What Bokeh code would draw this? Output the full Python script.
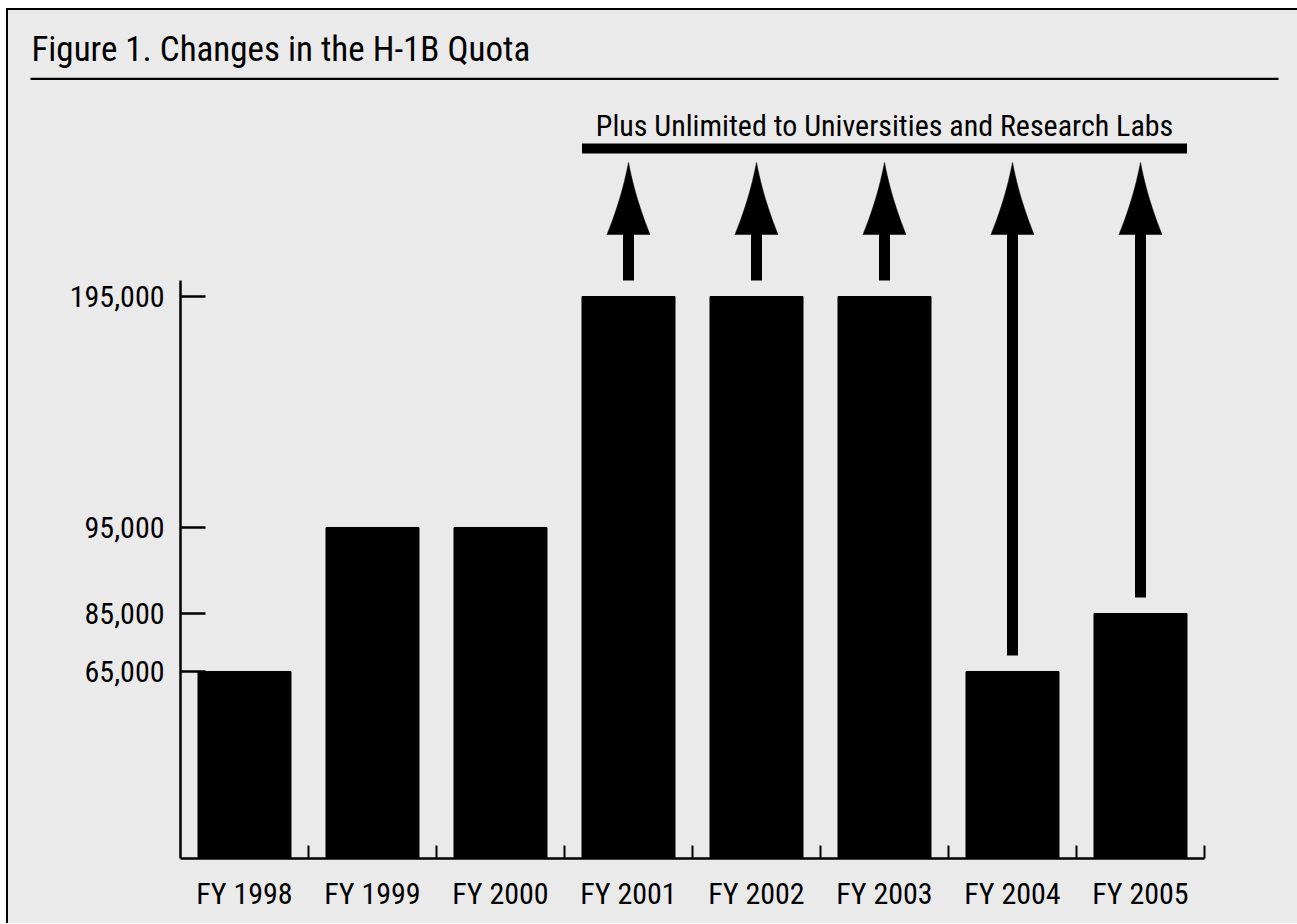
import numpy as np
from bokeh.plotting import figure
from bokeh.models import Range1d, FixedTicker
from bokeh.layouts import column
from bokeh.core.properties import value
from bokeh.embed import file_html
from bokeh.resources import INLINE

# ---------------- data ----------------
categories = ["FY 1998", "FY 1999", "FY 2000", "FY 2001",
              "FY 2002", "FY 2003", "FY 2004", "FY 2005"]
quota = [65000, 95000, 95000, 195000, 195000, 195000, 65000, 85000]
unlimited = [False, False, False, True, True, True, True, True]
y_tick_values = [65000, 85000, 95000, 195000]
y_tick_labels = ["65,000", "85,000", "95,000", "195,000"]
title_text = "Figure 1. Changes in the H-1B Quota"
note_text = "Plus Unlimited to Universities and Research Labs"

# hand-drawn (non-linear) value axis of the original: value anchors -> display units
scale_values = [0, 65000, 85000, 95000, 195000]
scale_display = [0, 187, 245, 331, 562]


def ymap(v):
    return np.interp(np.asarray(v, dtype=float), scale_values, scale_display)


FONT = "Roboto Condensed"
BG = "#EAEAEA"
W = 1289

# ---------------- header (title + rule) ----------------
ph = figure(width=W, height=70, x_range=Range1d(0, W), y_range=Range1d(0, 70),
            min_border=0, toolbar_location=None, output_backend="svg",
            x_axis_type=None, y_axis_type=None)
ph.frame_align = False
ph.background_fill_color = BG
ph.border_fill_color = BG
ph.outline_line_color = None
ph.text(x=[23], y=[31.5], text=[title_text], text_font=value(FONT),
        text_font_size="35px", text_color="black",
        text_align="left", text_baseline="middle")
ph.segment(x0=[22], y0=[1.5], x1=[1270], y1=[1.5], line_width=2.5, line_color="black")

# ---------------- chart ----------------
p = figure(width=W, height=843, x_range=Range1d(0, len(categories)),
           y_range=Range1d(0, 778), toolbar_location=None, output_backend="svg",
           min_border_left=172, min_border_right=W - 1196, min_border_top=0,
           min_border_bottom=65)
p.frame_align = False
p.background_fill_color = BG
p.border_fill_color = BG
p.outline_line_color = None
p.xgrid.visible = False
p.ygrid.visible = False

xc = np.arange(len(categories)) + 0.5
tops = ymap(quota)
bar_w = 93 / 128

p.vbar(x=xc, top=tops, bottom=0, width=bar_w, fill_color="black", line_color="black")

# arrows for "unlimited"
idx = [i for i, u in enumerate(unlimited) if u]
tip_y = 696
head_base = 624
gap = 16
shaft_w = 11 / 128
head_hw = 21.5 / 128
ux = xc[idx]
p.quad(left=ux - shaft_w / 2, right=ux + shaft_w / 2,
       bottom=tops[idx] + gap, top=np.full(len(idx), head_base + 2),
       fill_color="black", line_color=None)

t = np.linspace(0, 1, 12)
xs, ys = [], []
for cx in ux:
    ctrl_x, ctrl_y = 0.32 * head_hw, head_base + 0.5 * (tip_y - head_base)
    rx = 2 * (1 - t) * t * ctrl_x + t ** 2 * head_hw
    ry = (1 - t) ** 2 * tip_y + 2 * (1 - t) * t * ctrl_y + t ** 2 * head_base
    px = np.concatenate([cx + rx, (cx - rx)[::-1]])
    py = np.concatenate([ry, ry[::-1]])
    xs.append(list(px))
    ys.append(list(py))
p.patches(xs, ys, fill_color="black", line_color="black", line_width=0.5)

# bracket bar and note
x_left = xc[idx[0]] - bar_w / 2
x_right = xc[idx[-1]] + bar_w / 2
p.quad(left=[x_left], right=[x_right], bottom=[705], top=[715],
       fill_color="black", line_color=None)
p.text(x=[(x_left + x_right) / 2], y=[733], text=[note_text], text_font=value(FONT),
       text_font_size="30px", text_color="black",
       text_align="center", text_baseline="middle")

# y axis
ytick_pos = [int(round(v)) for v in ymap(y_tick_values)]
p.yaxis.ticker = FixedTicker(ticks=ytick_pos)
p.yaxis.major_label_overrides = {k: lab for k, lab in zip(ytick_pos, y_tick_labels)}
p.yaxis.bounds = (0, 578)
p.yaxis.axis_line_width = 2.5
p.yaxis.major_tick_in = 25
p.yaxis.major_tick_out = 0
p.yaxis.major_tick_line_width = 2.5
p.yaxis.minor_tick_line_color = None
p.yaxis.major_label_standoff = 16
p.yaxis.major_label_text_font = FONT
p.yaxis.major_label_text_font_size = "30px"
p.yaxis.major_label_text_color = "black"

# x axis: labels at category centres, small ticks at category boundaries
p.xaxis.ticker = FixedTicker(ticks=list(xc), minor_ticks=list(range(1, len(categories) + 1)))
p.xaxis.major_label_overrides = {float(k): lab for k, lab in zip(xc, categories)}
p.xaxis.axis_line_width = 2.5
p.xaxis.major_tick_line_color = None
p.xaxis.major_tick_in = 0
p.xaxis.major_tick_out = 0
p.xaxis.minor_tick_in = 13
p.xaxis.minor_tick_out = 0
p.xaxis.minor_tick_line_width = 2
p.xaxis.minor_tick_line_color = "black"
p.xaxis.major_label_standoff = 17
p.xaxis.major_label_text_font = FONT
p.xaxis.major_label_text_font_size = "30px"
p.xaxis.major_label_text_color = "black"

layout = column(ph, p, spacing=0,
                styles={"border-top": "2px solid black", "border-left": "2px solid black",
                        "background-color": BG, "margin-left": "6px", "margin-top": "8px"})

open("out.html", "w").write(file_html(layout, INLINE))
